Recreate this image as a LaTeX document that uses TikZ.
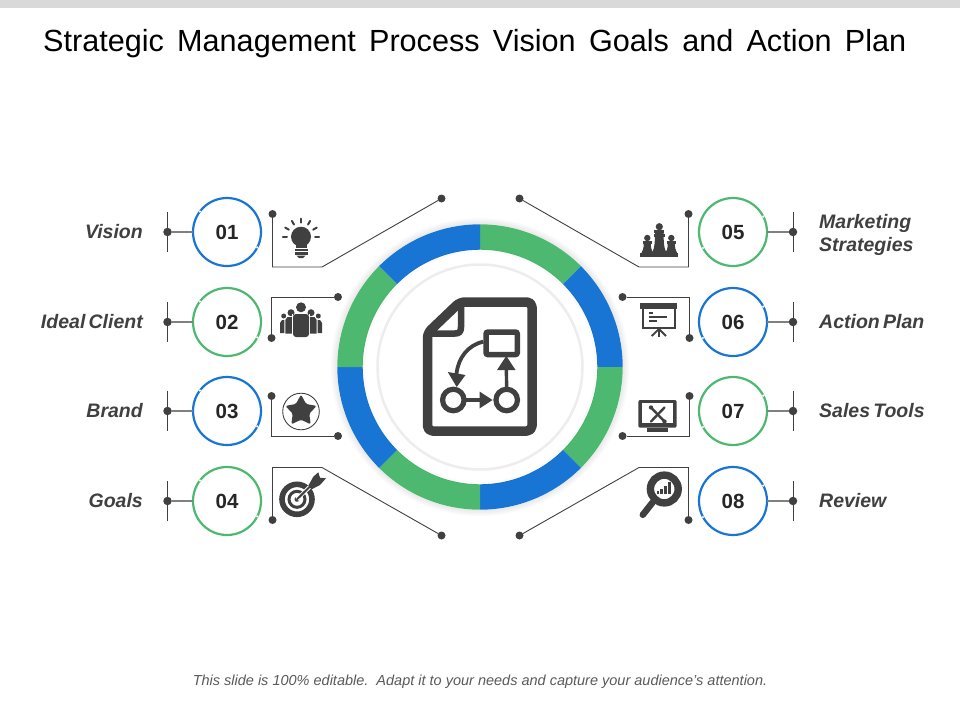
\documentclass[tikz,border=0pt]{standalone}
\usepackage{fontspec}
\setmainfont{Liberation Sans}
\usetikzlibrary{shapes.geometric}
\definecolor{ringblue}{HTML}{1875D3}
\definecolor{ringgreen}{HTML}{4DB86F}
\definecolor{icongray}{HTML}{404040}
\newcommand{\titlegap}{\spaceskip=13.3pt\relax}
\newcommand{\labelgap}{\spaceskip=3.2pt\relax}
\begin{document}
\begin{tikzpicture}[x=1pt,y=-1pt,
    numcircle/.style={circle,draw,line width=2.2pt,minimum size=68pt,inner sep=0pt,outer sep=0pt,fill=white,text=black!85,font=\fontsize{20.5}{24}\selectfont\bfseries},
    dot/.style={circle,fill=icongray,minimum size=8pt,inner sep=0pt,outer sep=0pt},
    tickdot/.style={circle,fill=icongray,minimum size=8.5pt,inner sep=0pt,outer sep=0pt},
    wire/.style={draw=icongray,line width=0.9pt},
    stub/.style={draw=gray,line width=1.1pt},
    leftlabel/.style={anchor=east,inner sep=0pt,text=icongray,font=\fontsize{19.5}{23}\selectfont\bfseries\itshape},
    rightlabel/.style={anchor=west,inner sep=0pt,align=left,text=icongray,font=\fontsize{19.5}{23}\selectfont\bfseries\itshape},
    icon/.style={fill=icongray,draw=none},
    iconline/.style={draw=icongray,line cap=round}]
  \useasboundingbox (0,0) rectangle (960,720);
  \fill[black!15] (0,0) rectangle (960,8);
  \node[anchor=base west,inner sep=0pt,font=\fontsize{30.6}{36}\selectfont] (title) at (43,51) {\titlegap Strategic Management Process Vision Goals and Action Plan};
  \node[inner sep=0pt,text=black!65,font=\fontsize{14.5}{18}\selectfont\itshape] (foot) at (480,681.5) {This slide is 100\% editable.\ \ Adapt it to your needs and capture your audience's attention.};

  % ring with its soft shadow
  \foreach \r in {149,147.5,146,144.5}
    \fill[black,opacity=0.018] (480,367) circle (\r);
  \fill[white] (480,367) circle (142.7);
  \foreach \a/\col in {-90/ringgreen,-45/ringblue,0/ringgreen,45/ringblue,90/ringgreen,135/ringblue,180/ringgreen,225/ringblue}
    \fill[\col] (480,367) ++(\a:142.7) arc[start angle=\a,delta angle=45,radius=142.7]
      -- ++(\a+45:-25.4) arc[start angle=\a+45,delta angle=-45,radius=117.3] -- cycle;
  \foreach \r in {117.3,115.5}
    \draw[black,opacity=0.02,line width=1.5pt] (480,367) circle (\r);
  \draw[black!7,line width=2.5pt] (480,367) circle (102.5);

  % document in the middle
  \draw[icongray,line width=9.5pt,line join=round,rounded corners=5pt]
    (427.5,333) -- (460,302) -- (532,302) -- (532,431) -- (427.5,431) -- cycle;
  \draw[icongray,line width=6.5pt,line join=round] (461,303) -- (461,327) .. controls (461,332) and (459,333.5) .. (455,333.5) -- (430,333.5);
  \draw[icongray,line width=5.5pt,rounded corners=2pt,fill=white] (486,332) rectangle (517.3,354.6);
  \node[circle,draw=icongray,line width=5.2pt,minimum size=21.5pt,inner sep=0pt,outer sep=0pt] (flowa) at (453.3,400) {};
  \node[circle,draw=icongray,line width=5.2pt,minimum size=21.5pt,inner sep=0pt,outer sep=0pt] (flowb) at (506.7,400) {};
  \coordinate (flowbox) at (483.3,341.7);
  \draw[icongray,line width=3.4pt] (flowa.east) -- (482,400);
  \fill[icongray] (479.5,391.5) -- (492.5,400) -- (479.5,408.5) -- cycle;
  \draw[icongray,line width=3.4pt] (flowb.north) -- (506.3,368);
  \fill[icongray] (497,370) -- (506.3,356) -- (515.5,370) -- cycle;
  \draw[icongray,line width=3.8pt] (flowbox) .. controls (468,345) and (458,358) .. (456.5,374);
  \fill[icongray] (447.8,372) -- (456.7,387) -- (465.5,375) -- cycle;

  % number circles
  \node[numcircle,draw=ringblue] (n01) at (227,232) {01};
  \node[numcircle,draw=ringgreen] (n02) at (227,322) {02};
  \node[numcircle,draw=ringblue] (n03) at (227,411) {03};
  \node[numcircle,draw=ringgreen] (n04) at (227,501) {04};
  \node[numcircle,draw=ringgreen] (n05) at (733,232) {05};
  \node[numcircle,draw=ringblue] (n06) at (733,322) {06};
  \node[numcircle,draw=ringgreen] (n07) at (733,411) {07};
  \node[numcircle,draw=ringblue] (n08) at (733,501) {08};
  \foreach \n in {n01,n02,n03,n04} {
    \fill[white] (\n.143) circle (1.2);
    \fill[white] (\n.-27) circle (1.2);
  }
  \foreach \n in {n05,n06,n07,n08} {
    \fill[white] (\n.27) circle (1.2);
    \fill[white] (\n.208) circle (1.2);
  }

  % ticks and labels
  \foreach \n/\y in {n01/232,n02/322,n03/411,n04/501} {
    \node[tickdot] (t\n) at (167.5,\y) {};
    \coordinate (up\n) at (167.5,\y-20);
    \coordinate (dn\n) at (167.5,\y+20);
    \draw[wire] (up\n) -- (dn\n);
    \draw[stub] (t\n) -- (\n);
  }
  \foreach \n/\y in {n05/232,n06/322,n07/411,n08/501} {
    \node[tickdot] (t\n) at (793,\y) {};
    \coordinate (up\n) at (793,\y-20);
    \coordinate (dn\n) at (793,\y+20);
    \draw[wire] (up\n) -- (dn\n);
    \draw[stub] (\n) -- (t\n);
  }
  \node[leftlabel] (lvision) at (143,232) {Vision};
  \node[leftlabel] (lclient) at (143,322) {\labelgap Ideal Client};
  \node[leftlabel] (lbrand) at (143,411) {Brand};
  \node[leftlabel] (lgoals) at (143,501) {Goals};
  \node[rightlabel] (lmarket) at (819,234.5) {Marketing\\Strategies};
  \node[rightlabel] (lplan) at (819,322) {\labelgap Action Plan};
  \node[rightlabel] (ltools) at (819,411) {\labelgap Sales Tools};
  \node[rightlabel] (lreview) at (819,501) {Review};

  % brackets
  \node[dot] (a1) at (272.5,214) {};
  \node[dot] (b1) at (441.5,198.5) {};
  \coordinate (c1) at (272.5,267);
  \coordinate (e1) at (322,267);
  \draw[wire] (a1) -- (c1) -- (e1) -- (b1);
  \node[dot] (a2) at (271.5,338) {};
  \node[dot] (b2) at (338,297) {};
  \coordinate (c2) at (271.5,297);
  \draw[wire] (a2) -- (c2) -- (b2);
  \node[dot] (a3) at (271.5,396) {};
  \node[dot] (b3) at (338,436) {};
  \coordinate (c3) at (271.5,436);
  \draw[wire] (a3) -- (c3) -- (b3);
  \node[dot] (a4) at (272.5,520) {};
  \node[dot] (b4) at (441.5,535.5) {};
  \coordinate (c4) at (272.5,467.5);
  \coordinate (e4) at (322,467.5);
  \draw[wire] (a4) -- (c4) -- (e4) -- (b4);
  \node[dot] (a5) at (688.5,214) {};
  \node[dot] (b5) at (519.5,198.5) {};
  \coordinate (c5) at (688.5,267);
  \coordinate (e5) at (639,267);
  \draw[wire] (a5) -- (c5) -- (e5) -- (b5);
  \node[dot] (a6) at (689.5,338) {};
  \node[dot] (b6) at (622.5,297) {};
  \coordinate (c6) at (689.5,297);
  \draw[wire] (a6) -- (c6) -- (b6);
  \node[dot] (a7) at (689.5,396) {};
  \node[dot] (b7) at (622.5,436) {};
  \coordinate (c7) at (689.5,436);
  \draw[wire] (a7) -- (c7) -- (b7);
  \node[dot] (a8) at (688.5,520) {};
  \node[dot] (b8) at (519.5,535.5) {};
  \coordinate (c8) at (688.5,467.5);
  \coordinate (e8) at (639,467.5);
  \draw[wire] (a8) -- (c8) -- (e8) -- (b8);

  % bulb
  \fill[icon] (301,236.7) circle (10);
  \fill[icon] (295.5,243) rectangle (306.5,248.3);
  \foreach \b in {0,30,60,90,120,150,180}
    \draw[iconline,line width=2pt] (301,236.7) ++(-\b:14) -- ++(-\b:4.2);
  \fill[icon] (294.5,249) rectangle (307.5,251);
  \fill[icon] (294.5,252.2) rectangle (307.5,254.6);
  \fill[icon] (296.5,255.6) -- (305.5,255.6) -- (303,258) -- (299,258) -- cycle;

  % people
  \fill[icon] (301,307.3) circle (5);
  \fill[icon] (291,312.7) circle (3.5);
  \fill[icon] (311,312.7) circle (3.5);
  \fill[icon] (283.7,316) circle (2.5);
  \fill[icon] (318.3,316) circle (2.5);
  \fill[icon] (280,333) -- (280,323) -- (282,320) -- (284.3,320) -- (284.3,333) -- cycle;
  \fill[icon] (322,333) -- (322,323) -- (320,320) -- (317.7,320) -- (317.7,333) -- cycle;
  \fill[icon] (285.3,333.5) -- (285.3,320) -- (287.5,317) -- (292,317) -- (292,333.5) -- cycle;
  \fill[icon] (316.7,333.5) -- (316.7,320) -- (314.5,317) -- (310,317) -- (310,333.5) -- cycle;
  \fill[white] (292,314) rectangle (293,337);
  \fill[white] (309,314) rectangle (310,337);
  \fill[icon,rounded corners=3pt] (293,337) -- (293,314) -- (309,314) -- (309,337) -- cycle;

  % star
  \draw[icongray,line width=0.9pt] (301,411.5) circle (18.3);
  \node[star,star points=5,star point ratio=1.9,fill=icongray,rounded corners=1.5pt,minimum size=33pt,inner sep=0pt] (starmark) at (301,411) {};

  % target
  \draw[icongray,line width=5.6pt] (297,499.3) circle (15);
  \draw[icongray,line width=3pt] (297,499.3) circle (8);
  \fill[icon] (297,499.3) circle (2.5);
  \draw[white,line width=4pt] (297,499.3) -- (312,484.5);
  \draw[icongray,line width=2pt] (297,499.3) -- (313,483.5);
  \fill[icon] (308.3,485.7) -- (313.3,476.7) -- (318.3,472.3) -- (320,477.7) -- (326,478.3) -- (320,485) -- (311.7,489.3) -- cycle;

  % chess
  \fill[icon] (640,256.7) -- (678.3,256.7) -- (678.3,253) -- (640,253) -- cycle;
  \foreach \px/\tp/\hw in {647.3/238/6.3,671.3/238/6.3} {
    \fill[icon] (\px,\tp) circle (3.2);
    \fill[icon] (\px-4.2,\tp+3) rectangle (\px+4.2,\tp+5.5);
    \fill[icon] (\px-3.5,\tp+5) .. controls (\px-3.5,\tp+10) and (\px-4.5,\tp+13) .. (\px-\hw,254) -- (\px+\hw,254) .. controls (\px+4.5,\tp+13) and (\px+3.5,\tp+10) .. (\px+3.5,\tp+5) -- cycle;
  }
  \fill[icon] (659.3,226.7) circle (3.6);
  \fill[icon] (654.3,229.5) rectangle (664.3,232.5);
  \fill[icon] (653.5,234) rectangle (665,236.5);
  \fill[icon] (655,232) .. controls (655,243) and (654.5,250) .. (651,254) -- (667.6,254) .. controls (664,250) and (663.6,243) .. (663.6,232) -- cycle;

  % board
  \fill[icon] (640,303.3) rectangle (676.7,308.7);
  \draw[icongray,line width=2.2pt] (642.8,308) -- (642.8,328.3) -- (674.6,328.3) -- (674.6,308);
  \draw[icongray,line width=1.7pt] (648.5,313.3) -- (653.3,313.3);
  \draw[icongray,line width=1.7pt] (648.5,317) -- (666.7,317);
  \draw[icongray,line width=1.7pt] (648.5,321) -- (656.7,321);
  \draw[icongray,line width=1.8pt] (659,329) -- (651.7,336);
  \draw[icongray,line width=1.8pt] (659,329) -- (659,336.5);
  \draw[icongray,line width=1.8pt] (659,329) -- (666,336);

  % monitor
  \fill[icon,rounded corners=2pt] (638.3,400) rectangle (676.7,427.7);
  \fill[white] (641.7,403.3) rectangle (673.3,423.3);
  \fill[icon] (646.7,428) rectangle (668.3,431.7);
  \draw[iconline,line width=2.4pt] (651,407.5) -- (664.5,421.5);
  \draw[iconline,line width=2.4pt] (651,421.5) -- (664.5,407.5);
  \fill[icon] (651,407.5) circle (2.2);
  \fill[icon] (664.5,421.5) circle (2.2);

  % magnifier
  \draw[icongray,line width=7.4pt] (664.3,489) circle (13.9);
  \draw[iconline,line width=6.5pt] (652.5,502.5) -- (642.8,514.8);
  \fill[icon] (656.5,490.5) rectangle (658.7,494.3);
  \fill[icon] (660.3,488.5) rectangle (662.7,494.3);
  \fill[icon] (664.3,485.5) rectangle (666.7,494.3);
  \fill[icon] (668.3,481.5) rectangle (671,494.3);
\end{tikzpicture}
\end{document}
